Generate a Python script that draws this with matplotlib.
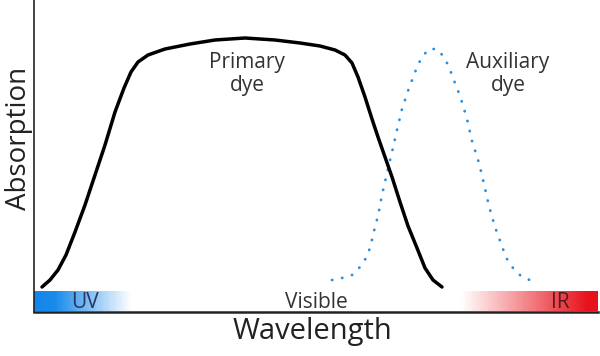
import numpy as np
import matplotlib
matplotlib.use("Agg")
import matplotlib.pyplot as plt
from matplotlib.colors import LinearSegmentedColormap

plt.rcParams["font.family"] = ["Open Sans", "DejaVu Sans"]

# hand-drawn absorption curves, arbitrary units (x: wavelength, y: absorption)
primary_x = [8, 16, 24, 32, 41, 51, 61, 71, 81, 90, 97, 104, 114, 131, 156, 181, 211,
             241, 266, 286, 301, 311, 318, 324, 331, 338, 344, 351, 358, 366, 374, 383, 391, 399, 408]
primary_y = [25, 32, 42, 57, 80, 107, 137, 167, 200, 224, 240, 250, 257, 263, 268, 272, 274,
             272, 269, 266, 262, 257, 249, 235, 215, 193, 175, 155, 135, 110, 86, 64, 44, 32, 25]

aux_x = [298, 308, 318, 326, 332, 336, 341, 344, 348, 353, 358, 363, 368, 375, 383, 388, 395,
         403, 410, 415, 419, 423, 427, 433, 438, 445, 450, 455, 461, 469, 473, 479, 488, 501]
aux_y = [32, 34, 37, 45, 54, 64, 85, 96, 117, 139, 160, 182, 203, 224, 245, 255, 263,
         263, 255, 245, 234, 224, 213, 193, 171, 149, 128, 106, 85, 63, 53, 44, 35, 30]

band_labels = ["UV", "Visible", "IR"]
band_pos = [51, 282, 526]

fig = plt.figure(figsize=(6.0, 3.56), dpi=100)
ax = fig.add_axes([34 / 600, 44 / 356, 564 / 600, 312 / 356])
ax.set_xlim(0, 564)
ax.set_ylim(0, 312)

# spectrum strip along the bottom axis
strip_cmap = LinearSegmentedColormap.from_list(
    "spec",
    [(0.0, "#1287ea"), (0.035, "#1a8bea"), (0.17, "#ffffff"),
     (0.76, "#ffffff"), (0.985, "#e8121c"), (1.0, "#e8121c")],
)
grad = np.linspace(0, 1, 600).reshape(1, -1)
ax.imshow(grad, cmap=strip_cmap, aspect="auto", extent=(0, 564, 0.5, 20.5), zorder=1)

ax.plot(primary_x, primary_y, color="black", lw=2.5, solid_capstyle="round",
        solid_joinstyle="round", zorder=3)
ax.plot(aux_x, aux_y, color="#2a8fe0", lw=2.0, linestyle=(0, (0.1, 3.6)),
        dash_capstyle="round", zorder=2)

ax.text(213, 238, "Primary\ndye", ha="center", va="center", fontsize=15,
        color="#333333", linespacing=1.15, zorder=4)
ax.text(474, 238, "Auxiliary\ndye", ha="center", va="center", fontsize=15,
        color="#333333", linespacing=1.15, zorder=4)

band_colors = ["#2a3560", "#333333", "#5a1a1a"]
for lab, xp, c in zip(band_labels, band_pos, band_colors):
    ax.text(xp, 10, lab, ha="center", va="center", fontsize=15, color=c, zorder=4)

for side in ["top", "right"]:
    ax.spines[side].set_visible(False)
ax.spines["left"].set_color("#222222")
ax.spines["left"].set_linewidth(1.2)
ax.spines["bottom"].set_color("#222222")
ax.spines["bottom"].set_linewidth(1.8)
ax.set_xticks([])
ax.set_yticks([])

fig.text(312 / 600, 1 - 331 / 356, "Wavelength", ha="center", va="center",
         fontsize=21, color="#222222")
fig.text(19 / 600, 1 - 138 / 356, "Absorption", ha="center", va="center",
         rotation=90, fontsize=20, color="#222222")

fig.savefig("out.png", dpi=100)
